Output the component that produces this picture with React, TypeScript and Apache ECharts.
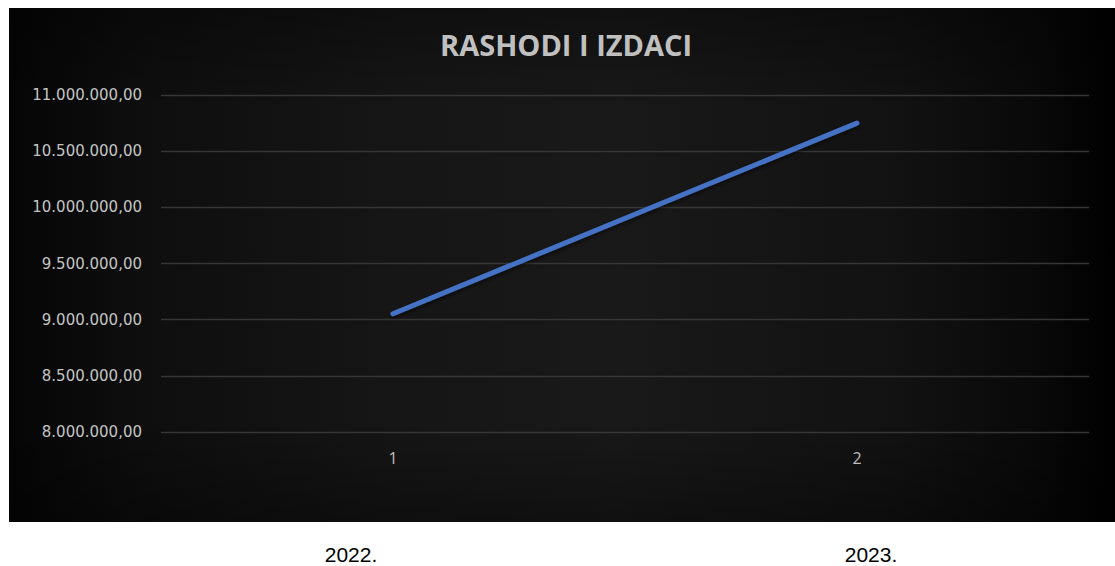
import React, { useEffect, useRef } from "react";
import * as echarts from "echarts";

const categories = ["1", "2"];
const values = [9053000, 10750000];
const yearLabels = ["2022.", "2023."];
const yMin = 8000000;
const yMax = 11000000;
const yStep = 500000;
const titleText = "RASHODI I IZDACI";

function fmt(v: number): string {
  const s = Math.round(v).toString().replace(/\B(?=(\d{3})+(?!\d))/g, ".");
  return s + ",00";
}

export default function App() {
  const ref = useRef<HTMLDivElement>(null);
  useEffect(() => {
    if (!ref.current) return;
    const chart = echarts.init(ref.current, undefined, { renderer: "svg" });
    chart.setOption({
      animation: false,
      backgroundColor: "#ffffff",
      title: {
        text: titleText,
        left: 435,
        top: 25,
        textStyle: {
          color: "#c0c0c0",
          fontFamily: "Open Sans",
          fontWeight: "bold",
          fontSize: 29,
        },
      },
      grid: { left: 161, right: 26, top: 95, bottom: 134, containLabel: false },
      xAxis: {
        type: "category",
        data: categories,
        boundaryGap: true,
        axisLine: { show: false },
        axisTick: { show: false },
        splitLine: { show: false },
        axisLabel: {
          color: "#bdbdbd",
          fontFamily: "Open Sans",
          fontSize: 16,
          margin: 18,
        },
      },
      yAxis: {
        type: "value",
        min: yMin,
        max: yMax,
        interval: yStep,
        axisLine: { show: false },
        axisTick: { show: false },
        splitLine: { lineStyle: { color: "#363636", width: 1.3 } },
        axisLabel: {
          color: "#c4c4c4",
          fontFamily: "DejaVu Sans",
          fontSize: 15,
          margin: 19,
          formatter: (v: number) => fmt(v),
        },
      },
      graphic: [
        {
          type: "rect",
          z: -10,
          silent: true,
          shape: { x: 9, y: 8, width: 1106, height: 514 },
          style: {
            fill: {
              type: "linear",
              x: 0,
              y: 0,
              x2: 1,
              y2: 0,
              colorStops: [
                { offset: 0, color: "#050505" },
                { offset: 0.12, color: "#0e0e0e" },
                { offset: 0.35, color: "#161616" },
                { offset: 0.55, color: "#191919" },
                { offset: 0.8, color: "#121212" },
                { offset: 0.93, color: "#090909" },
                { offset: 1, color: "#000000" },
              ],
            },
          },
        },
        {
          type: "rect",
          z: -9,
          silent: true,
          shape: { x: 9, y: 8, width: 1106, height: 514 },
          style: {
            fill: {
              type: "linear",
              x: 0,
              y: 0,
              x2: 0,
              y2: 1,
              colorStops: [
                { offset: 0, color: "rgba(0,0,0,0.35)" },
                { offset: 0.2, color: "rgba(0,0,0,0)" },
                { offset: 0.8, color: "rgba(0,0,0,0)" },
                { offset: 1, color: "rgba(0,0,0,0.35)" },
              ],
            },
          },
        },
        {
          type: "text",
          x: 351,
          y: 554,
          style: {
            text: yearLabels[0],
            fill: "#000000",
            font: "21px 'Liberation Sans', Arial, sans-serif",
            textAlign: "center",
            textVerticalAlign: "middle",
          },
        },
        {
          type: "text",
          x: 871,
          y: 554,
          style: {
            text: yearLabels[1],
            fill: "#000000",
            font: "21px 'Liberation Sans', Arial, sans-serif",
            textAlign: "center",
            textVerticalAlign: "middle",
          },
        },
      ],
      series: [
        {
          type: "line",
          data: values,
          symbol: "none",
          lineStyle: {
            color: "#4472C4",
            width: 5,
            cap: "round",
            shadowColor: "rgba(0,0,0,0.6)",
            shadowBlur: 4,
            shadowOffsetY: 2,
          },
        },
      ],
    });
    return () => chart.dispose();
  }, []);
  return (
    <div
      ref={ref}
      style={{ position: "fixed", left: 0, top: 0, width: 1115, height: 566 }}
    />
  );
}
